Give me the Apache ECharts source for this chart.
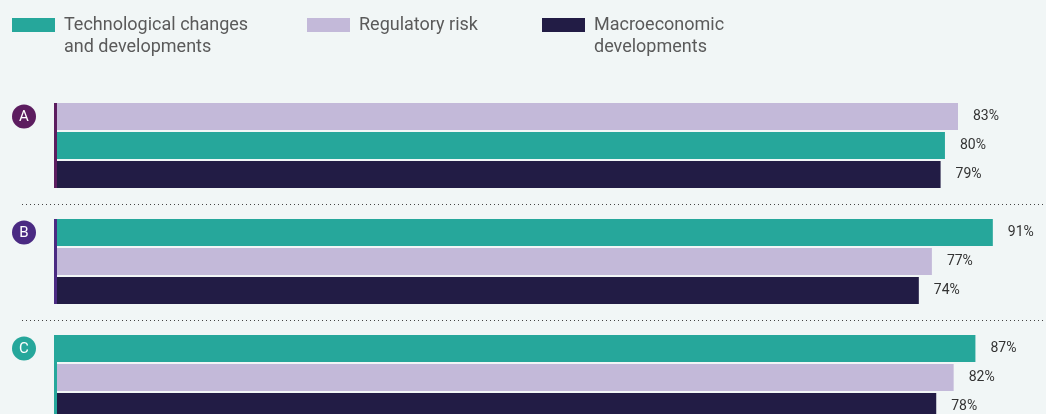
<!DOCTYPE html>
<html>
<head>
<meta charset="utf-8">
<script src="https://cdn.jsdelivr.net/npm/echarts@6/dist/echarts.min.js"></script>
<style>
  html, body { margin: 0; padding: 0; background: #f1f6f6; }
  #chart { width: 1046px; height: 414px; }
</style>
</head>
<body>
<div id="chart"></div>
<script>
// groups and the three drivers
const groups = ['A', 'B', 'C'];
const seriesNames = ['Technological changes\nand developments', 'Regulatory risk', 'Macroeconomic\ndevelopments'];
const techValues = [80, 91, 87];
const regValues = [83, 77, 82];
const macroValues = [79, 74, 78];

const seriesValues = [techValues, regValues, macroValues];
const seriesColors = ['#26a79b', '#c3b9d9', '#221c45'];
const groupColors = ['#5c1d5f', '#4a2a82', '#26a79b'];

// axis range (bars start at the left edge)
const xMin = -124;
const xMax = 100;

// build one slot per bar, bars sorted high to low in a group, empty slot between groups
const slots = [];
const groupRanges = [];
const gapSlots = [];
groups.forEach((g, gi) => {
  if (gi > 0) {
    gapSlots.push(slots.length);
    slots.push({ id: 'gap' + gi, series: -1 });
  }
  const order = [0, 1, 2].sort((a, b) => seriesValues[b][gi] - seriesValues[a][gi]);
  const first = slots.length;
  order.forEach(s => slots.push({ id: g + '-' + s, series: s, group: gi }));
  groupRanges.push([xMin, first, slots.length - 1, gi]);
});

const chart = echarts.init(document.getElementById('chart'));

const barSeries = seriesNames.map((name, s) => ({
  name: name,
  type: 'bar',
  barWidth: 27,
  barGap: '-100%',
  itemStyle: { color: seriesColors[s] },
  label: {
    show: true,
    position: 'right',
    distance: 15,
    formatter: '{c}%',
    fontSize: 14,
    fontFamily: 'Roboto',
    color: '#333'
  },
  data: slots.map(sl => sl.series === s ? seriesValues[s][sl.group] : '-')
}));

const legendLefts = [7, 302, 537];

const option = {
  backgroundColor: '#f1f6f6',
  animation: false,
  legend: seriesNames.map((name, i) => {
    const twoLines = name.indexOf('\n') >= 0;
    return {
      data: [name],
      left: legendLefts[i],
      top: twoLines ? -13 : 9,
      icon: 'rect',
      itemWidth: 43,
      itemHeight: 14,
      selectedMode: false,
      // blank first line keeps the first text line level with the icon
      formatter: n => twoLines ? '\n' + n : n,
      textStyle: {
        fontSize: 18,
        lineHeight: 22,
        fontFamily: 'Roboto',
        color: '#5a5a5a',
        padding: [0, 0, 0, 4]
      }
    };
  }),
  // last group runs off the bottom edge, so let the grid go past the canvas
  grid: { left: 57, top: 102, width: 975, height: 319, outerBoundsMode: 'none' },
  xAxis: {
    type: 'value',
    min: xMin,
    max: xMax,
    startValue: xMin,
    show: false
  },
  yAxis: {
    type: 'category',
    inverse: true,
    data: slots.map(sl => sl.id),
    show: false
  },
  series: barSeries.concat([
    {
      // group marker: circle with letter and thin coloured line at bar start
      type: 'custom',
      clip: false,
      encode: { x: 0, y: 1 },
      data: groupRanges,
      renderItem: function (params, api) {
        const top = api.coord([api.value(0), api.value(1)]);
        const bottom = api.coord([api.value(0), api.value(2)]);
        const band = api.size([0, 1])[1];
        const color = groupColors[api.value(3)];
        return {
          type: 'group',
          children: [
            {
              type: 'rect',
              shape: { x: top[0] - 3, y: top[1] - band / 2 + 1, width: 3, height: bottom[1] - top[1] + band - 2 },
              style: { fill: color }
            },
            {
              type: 'circle',
              shape: { cx: top[0] - 33, cy: top[1], r: 12 },
              style: { fill: color }
            },
            {
              type: 'text',
              x: top[0] - 33,
              y: top[1] + 1,
              style: {
                text: groups[api.value(3)],
                fill: '#fff',
                fontSize: 15,
                fontFamily: 'Roboto',
                align: 'center',
                verticalAlign: 'middle'
              }
            }
          ]
        };
      }
    },
    {
      // dotted separators between groups
      type: 'custom',
      clip: false,
      encode: { x: 0, y: 1 },
      data: gapSlots.map(i => [xMin, i]),
      renderItem: function (params, api) {
        const p = api.coord([api.value(0), api.value(1)]);
        const y = Math.round(p[1]) + 0.5;
        return {
          type: 'line',
          shape: { x1: 22, y1: y, x2: api.getWidth(), y2: y },
          style: { stroke: '#444', lineWidth: 1, lineDash: [1, 3] }
        };
      }
    }
  ])
};

chart.setOption(option);
</script>
</body>
</html>
